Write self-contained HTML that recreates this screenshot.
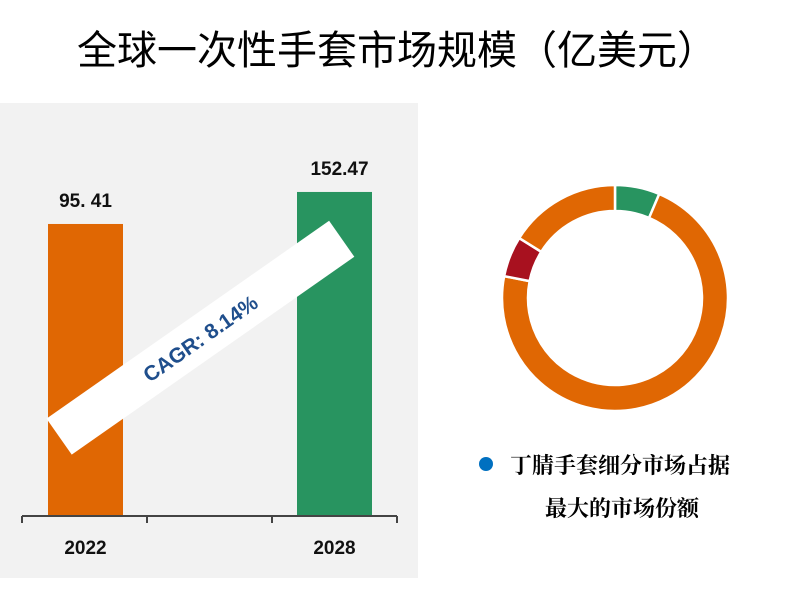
<!DOCTYPE html>
<html><head><meta charset="utf-8">
<style>
body{margin:0;width:793px;height:590px;background:#fff;overflow:hidden;font-family:"Liberation Sans","Noto Sans CJK SC",sans-serif}
</style></head>
<body>
<svg width="793" height="590" xmlns="http://www.w3.org/2000/svg">
<text x="397" y="64" text-anchor="middle" font-size="40" font-family="WenQuanYi Zen Hei, Noto Sans CJK SC, sans-serif" fill="#000">全球一次性手套市场规模（亿美元）</text>
<rect x="0" y="103" width="418" height="475" fill="#f2f2f2"/>
<g id="bars"></g>
<g id="axis"></g>
<g transform="translate(200,338) rotate(-35)">
<rect x="-172" y="-22" width="345" height="44" fill="#fff"/>
<text x="0" y="8" text-anchor="middle" font-size="21" font-weight="bold" fill="#1f4e8c">CAGR: 8.14%</text>
</g>
<g id="donut"></g>
<circle cx="486" cy="464" r="7" fill="#0070c0"/>
<text x="510" y="473" font-size="22" font-weight="bold" font-family="Noto Serif CJK SC, serif" fill="#000">丁腈手套细分市场占据</text>
<text x="545" y="516" font-size="22" font-weight="bold" font-family="Noto Serif CJK SC, serif" fill="#000">最大的市场份额</text>
</svg>
<script>
const categories=["2022","2028"];
const values=[95.41,152.47];
const valueLabels=["95. 41","152.47"];
const barColors=["#e06703","#289460"];
const sliceValues=[6.4,71.7,5.8,16.1];
const sliceColors=["#289460","#e06703","#a8111f","#e06703"];
const NS="http://www.w3.org/2000/svg";
function mk(t,a){const e=document.createElementNS(NS,t);for(const k in a)e.setAttribute(k,a[k]);return e;}
const base=515;
function yPos(v){return base-(237.5+0.561*v);}
function xPos(i){return 48+i*249;}
const bw=75;
const bars=document.getElementById('bars');
categories.forEach((c,i)=>{
  const y=yPos(values[i]);
  const r=mk('rect',{x:xPos(i),y:y,width:bw,height:base-y,fill:barColors[i]});
  
  
  bars.appendChild(r);
  const t=mk('text',{x:xPos(i)+bw/2+i*5,y:y-17,'text-anchor':'middle','font-size':'19','font-weight':'bold',fill:'#111'});
  t.textContent=valueLabels[i];
  
  
  bars.appendChild(t);
  const l=mk('text',{x:xPos(i)+bw/2,y:554,'text-anchor':'middle','font-size':'19','font-weight':'bold',fill:'#111'});
  l.textContent=c;
  
  
  bars.appendChild(l);
});
const ax=document.getElementById('axis');
const line=mk('line',{x1:22,y1:516,x2:397,y2:516,stroke:'#444','stroke-width':'2'});


ax.appendChild(line);
[22,147,272,397].forEach(x=>{
  const tk=mk('line',{x1:x,y1:516,x2:x,y2:523,stroke:'#444','stroke-width':'2'});
  
  
  ax.appendChild(tk);
});
const dn=document.getElementById('donut');
const cx=615,cy=298,R=113,r0=87;
const tot=sliceValues.reduce((a,b)=>a+b,0);
let acc=0;
function pt(a,rr){return [cx+rr*Math.sin(a),cy-rr*Math.cos(a)];}
sliceValues.forEach((v,i)=>{
  const a0=acc/tot*2*Math.PI;acc+=v;const a1=acc/tot*2*Math.PI;
  const lg=(a1-a0)>Math.PI?1:0;
  const p1=pt(a0,R),p2=pt(a1,R),p3=pt(a1,r0),p4=pt(a0,r0);
  const d=`M${p1}A${R},${R} 0 ${lg} 1 ${p2}L${p3}A${r0},${r0} 0 ${lg} 0 ${p4}Z`;
  const p=mk('path',{d:d,fill:sliceColors[i],stroke:'#fff','stroke-width':'2.5'});
  
  
  dn.appendChild(p);
});
</script>
</body></html>
